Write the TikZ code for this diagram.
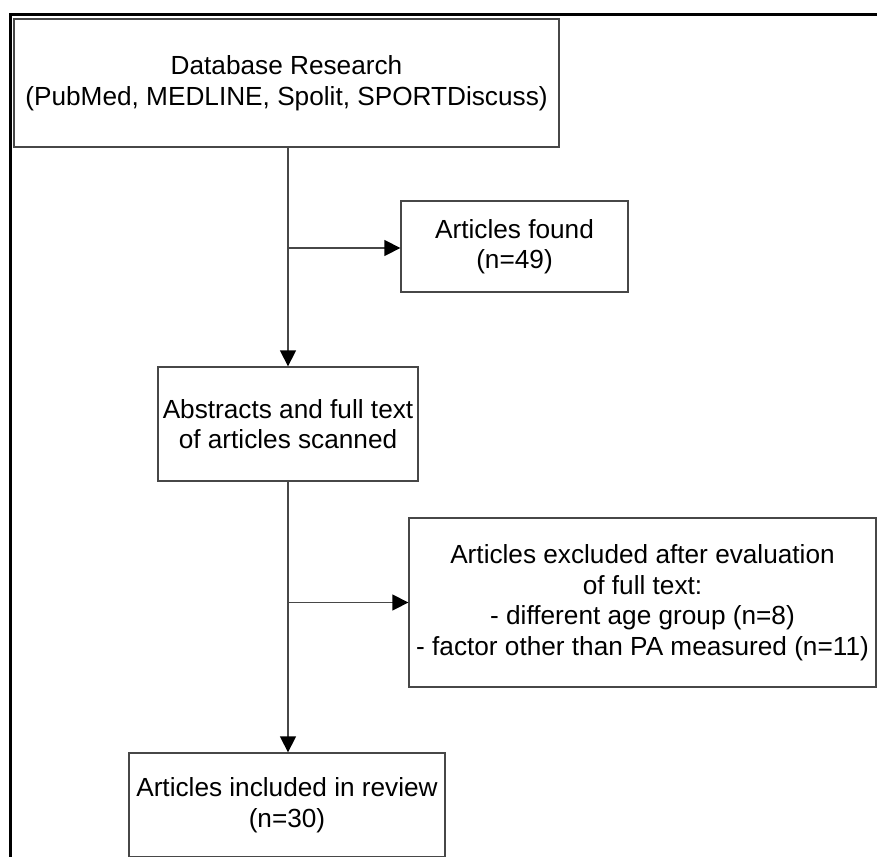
\documentclass[tikz,border=0pt]{standalone}
\usepackage{fontspec}
\setmainfont{Liberation Sans}
\usetikzlibrary{arrows.meta}
\tikzset{
  box/.style={draw=black!72, line width=1.3pt, rectangle, inner sep=0pt, align=center,
    font=\fontsize{26.2}{30.5}\selectfont, text=black},
  conn/.style={draw=black!72, line width=1.3pt, -{Triangle[length=16pt,width=16pt,color=black]}},
  line/.style={draw=black!72, line width=1.3pt},
  frameline/.style={draw=black, line width=3pt}
}
\begin{document}
\begin{tikzpicture}[x=1pt,y=-1pt]
\useasboundingbox (0,0) rectangle (877,856);
\clip (0,0) rectangle (877,856);
\draw[frameline] (10,870) -- (10,15) -- (890,15);
\node[box, minimum width=545pt, minimum height=128pt] (b1) at (286.5,83)
  {Database Research\\(PubMed, MEDLINE, Spolit, SPORTDiscuss)};
\node[box, minimum width=227pt, minimum height=91pt] (b2) at (514.5,246.5)
  {Articles found\\(n=49)};
\node[box, minimum width=260pt, minimum height=114pt] (b3) at (288,424)
  {Abstracts and full text\\of articles scanned};
\node[box, minimum width=467pt, minimum height=169pt] (b4) at (642.5,602.5)
  {Articles excluded after evaluation\\of full text:\\- different age group (n=8)\\- factor other than PA measured (n=11)};
\node[box, minimum width=316pt, minimum height=104pt] (b5) at (287,805)
  {Articles included in review\\(n=30)};
\coordinate (j1) at (288,248);
\coordinate (j2) at (288,602.5);
\draw[conn] (b1.south -| b3.north) -- (b3.north);
\draw[conn] (j1) -- (j1 -| b2.west);
\draw[line] (b3.south) -- (j2);
\draw[conn] (j2) -- (b4.west);
\draw[conn] (j2) -- (j2 |- b5.north);
\end{tikzpicture}
\end{document}
